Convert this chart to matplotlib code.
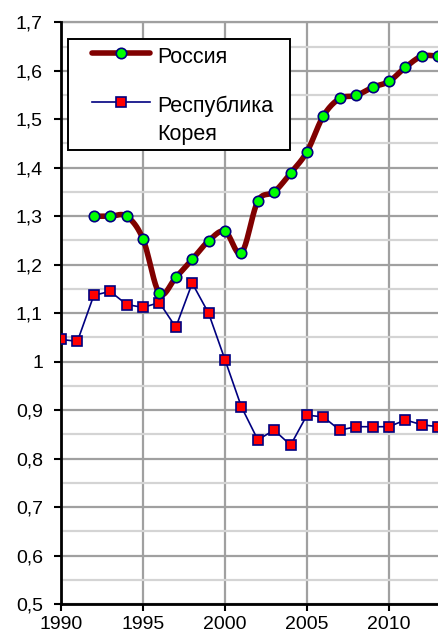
import numpy as np
import matplotlib
matplotlib.use("Agg")
import matplotlib.pyplot as plt
from matplotlib.ticker import MultipleLocator, FuncFormatter
from matplotlib.patches import Rectangle

plt.rcParams['font.family'] = ['Liberation Sans', 'DejaVu Sans']

years_ru = [1992, 1993, 1994, 1995, 1996, 1997, 1998, 1999, 2000, 2001, 2002,
            2003, 2004, 2005, 2006, 2007, 2008, 2009, 2010, 2011, 2012, 2013]
russia = [1.30, 1.30, 1.30, 1.253, 1.141, 1.174, 1.211, 1.249, 1.269, 1.224, 1.331,
          1.350, 1.389, 1.433, 1.507, 1.543, 1.549, 1.566, 1.578, 1.607, 1.630, 1.630]

years_kr = [1990, 1991, 1992, 1993, 1994, 1995, 1996, 1997, 1998, 1999, 2000, 2001,
            2002, 2003, 2004, 2005, 2006, 2007, 2008, 2009, 2010, 2011, 2012, 2013]
korea = [1.046, 1.042, 1.137, 1.145, 1.118, 1.112, 1.122, 1.071, 1.162, 1.100, 1.004, 0.907,
         0.839, 0.859, 0.828, 0.890, 0.886, 0.859, 0.866, 0.866, 0.866, 0.880, 0.870, 0.866]

labels = ["Россия", "Республика\nКорея"]


def smooth(x, y, n=20):
    x = np.asarray(x, float)
    y = np.asarray(y, float)
    px = np.concatenate([[x[0]], x, [x[-1]]])
    py = np.concatenate([[y[0]], y, [y[-1]]])
    xs, ys = [], []
    t = np.linspace(0, 1, n, endpoint=False)
    for i in range(1, len(px) - 2):
        p0, p1, p2, p3 = [np.array([px[j], py[j]]) for j in (i - 1, i, i + 1, i + 2)]
        c1 = p1 + (p2 - p0) / 6.0
        c2 = p2 - (p3 - p1) / 6.0
        b = ((1 - t) ** 3)[:, None] * p1 + (3 * (1 - t) ** 2 * t)[:, None] * c1 + \
            (3 * (1 - t) * t ** 2)[:, None] * c2 + (t ** 3)[:, None] * p2
        xs.extend(b[:, 0]); ys.extend(b[:, 1])
    xs.append(x[-1]); ys.append(y[-1])
    return np.array(xs), np.array(ys)


fig = plt.figure(figsize=(4.39, 6.36), dpi=100)
ax = fig.add_axes([0.139, 0.050, 0.861, 0.915])

ax.set_xlim(1990, 2013.05)
ax.set_ylim(0.5, 1.7)

ax.yaxis.set_major_locator(MultipleLocator(0.1))
ax.yaxis.set_minor_locator(MultipleLocator(0.05))
ax.xaxis.set_major_locator(MultipleLocator(5))
ax.yaxis.set_major_formatter(FuncFormatter(lambda v, p: ("%g" % round(v, 2)).replace('.', ',')))

ax.grid(which='major', axis='y', color='#a0a0a0', lw=1.6, zorder=0)
ax.grid(which='minor', axis='y', color='#d4d4d4', lw=1.6, zorder=0)
ax.grid(which='major', axis='x', color='#a0a0a0', lw=1.6, zorder=0)
ax.set_axisbelow(True)

for s in ['top', 'right']:
    ax.spines[s].set_visible(False)
ax.spines['left'].set_linewidth(2)
ax.spines['bottom'].set_linewidth(2)
ax.axhline(1.7, color='#a0a0a0', lw=1.6, zorder=0, clip_on=False)

ax.tick_params(axis='both', which='major', length=5, width=1.5, direction='out', colors='black')
ax.tick_params(axis='y', which='minor', length=0)
ax.tick_params(axis='y', pad=8, labelsize=14)
ax.tick_params(axis='x', pad=3.5, labelsize=14)

sx, sy = smooth(years_ru, russia)
ax.plot(sx, sy, color='#800000', lw=4, zorder=3, solid_capstyle='round')
ax.plot(years_ru, russia, ls='none', marker='o', ms=7.5, mfc='#00ff00', mec='#000080', mew=1.2, zorder=4)
ax.plot(years_kr, korea, color='#000080', lw=1.2, marker='s', ms=7, mfc='#ff0000', mec='#000080', mew=1.2, zorder=3)

# legend (drawn by hand so the handle sits on the first line of the two-line label)
frame = Rectangle((0.0185, 0.780), 0.5875, 0.191, transform=ax.transAxes,
                  facecolor='white', edgecolor='black', lw=1.4, zorder=5)
ax.add_patch(frame)
hx0, hx1, tx = 0.082, 0.235, 0.254
rows = [0.9467, 0.8625]
text_base = [0.9296, 0.797]   # baseline of the last line of each label
styles = [dict(color='#800000', lw=4, solid_capstyle='round', marker='o', ms=7.5,
               mfc='#00ff00', mec='#000080', mew=1.2),
          dict(color='#000080', lw=1.2, marker='s', ms=7, mfc='#ff0000', mec='#000080', mew=1.2)]
for lab, yr, yb, st in zip(labels, rows, text_base, styles):
    ax.plot([hx0, (hx0 + hx1) / 2, hx1], [yr, yr, yr], transform=ax.transAxes,
            clip_on=False, zorder=6, markevery=[1], **st)
    ax.text(tx, yb, lab, transform=ax.transAxes, fontsize=15.5, va='baseline', ha='left',
            linespacing=1.45, zorder=7)

fig.savefig("out.png", dpi=100)
